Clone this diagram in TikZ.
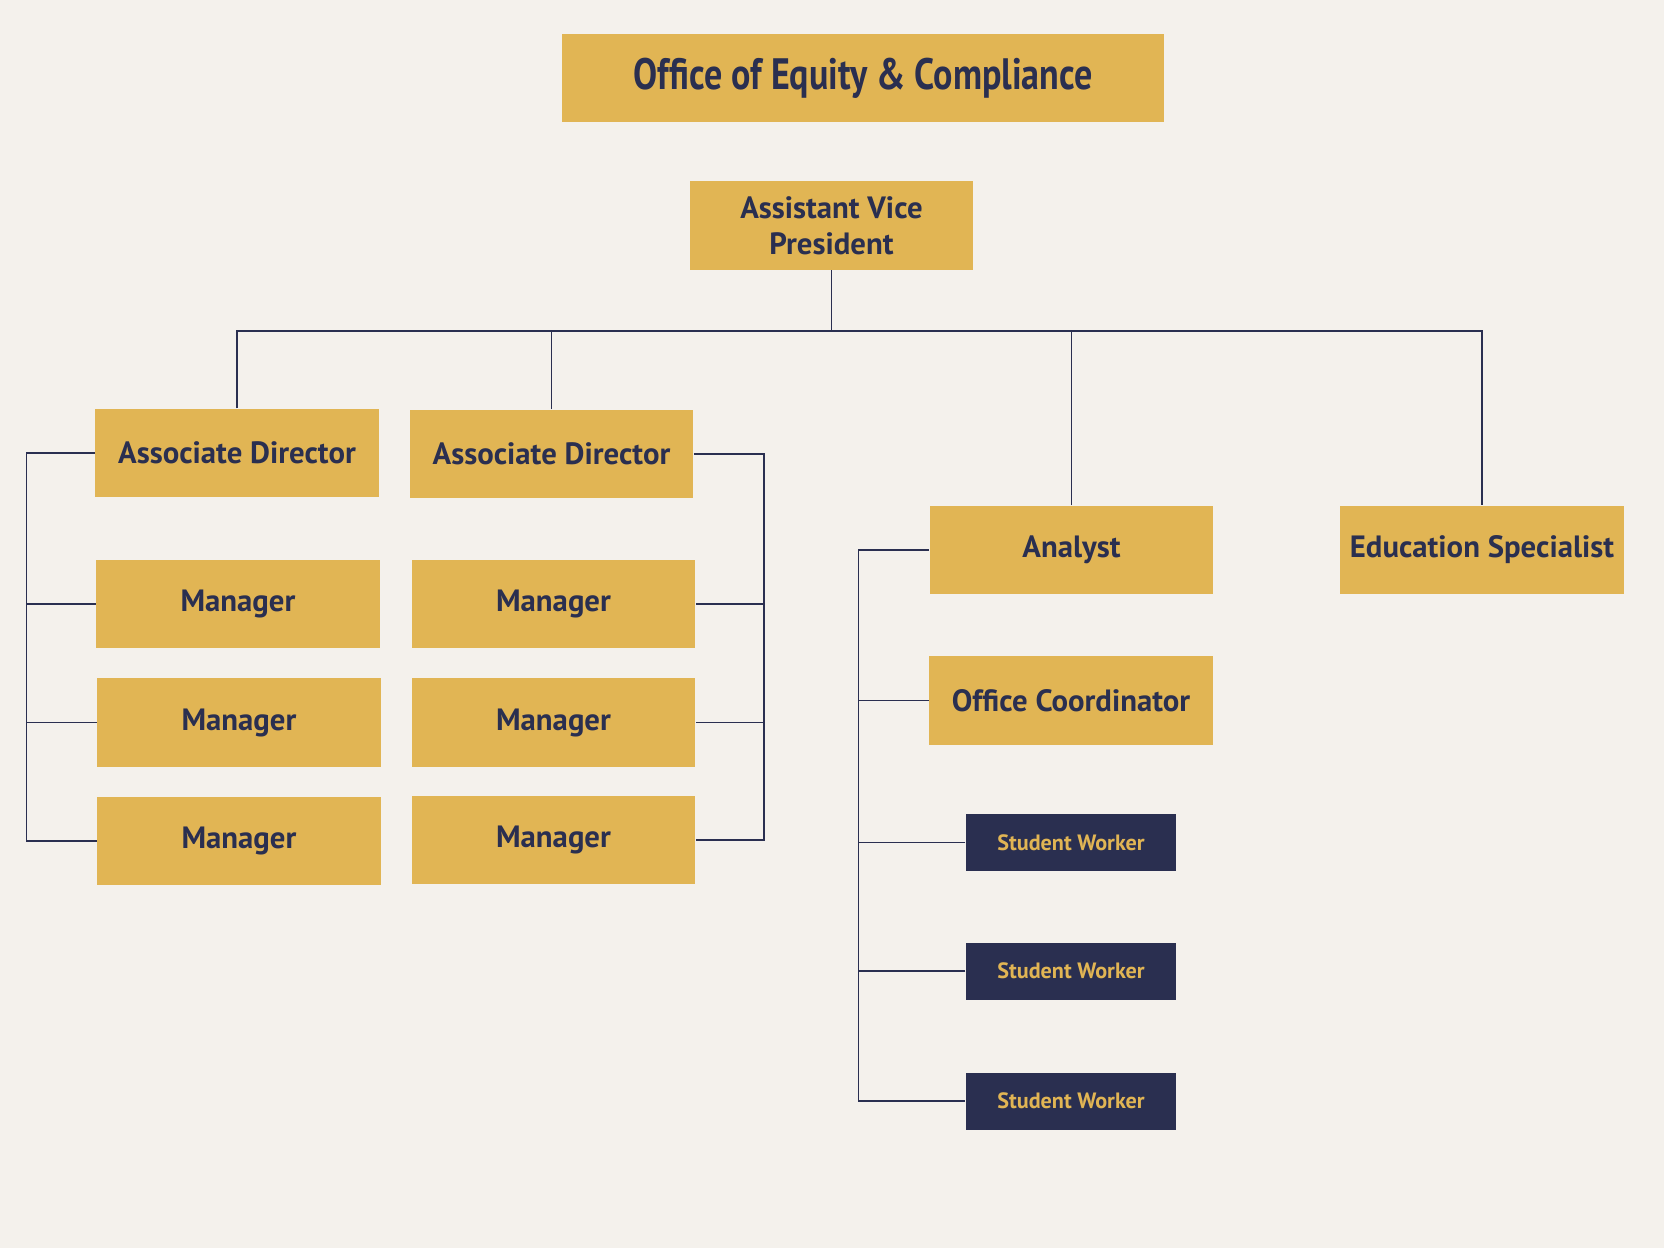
\documentclass[tikz,border=0pt]{standalone}
\usepackage{fontspec}
\setmainfont{PT Sans}
\newfontfamily\titlefont[FakeStretch=0.82]{PT Sans}
\usetikzlibrary{positioning}
\definecolor{paper}{HTML}{F4F1EC}
\definecolor{gold}{HTML}{E1B554}
\definecolor{navy}{HTML}{2A2F50}
\tikzstyle{titlebox} = [
    rectangle,
    fill=gold,
    text=navy,
    minimum width=6.02cm,
    minimum height=0.88cm,
    font=\titlefont\bfseries\fontsize{12.5}{15}\selectfont
]
\tikzstyle{rolebox} = [
    rectangle,
    fill=gold,
    text=navy,
    inner xsep=2pt,
    minimum width=2.83cm,
    minimum height=0.88cm,
    align=center,
    font=\bfseries\fontsize{8.75}{10.3}\selectfont
]
\tikzstyle{studentbox} = [
    rectangle,
    fill=navy,
    text=gold,
    minimum width=2.10cm,
    minimum height=0.57cm,
    font=\bfseries\fontsize{6.3}{8}\selectfont
]
\tikzstyle{link} = [draw=navy, line width=0.45pt]

\begin{document}
\begin{tikzpicture}[x=0.01cm, y=-0.01cm]

\fill [paper] (0,0) rectangle (1664,1248);
\useasboundingbox (0,0) rectangle (1664,1248);

% top of the chart
\node (title) [titlebox] at (863,78) {Office of Equity \& Compliance};
\node (avp) [rolebox] at (831.5,225.5) {Assistant Vice\\President};

% second row
\node (ad1) [rolebox] at (237,453) {Associate Director};
\node (ad2) [rolebox] at (551.5,454) {Associate Director};
\node (analyst) [rolebox] at (1071.5,550) {Analyst};
\node (edu) [rolebox] at (1482,550) {Education Specialist};

% managers
\node (m1) [rolebox] at (238,604) {Manager};
\node (m2) [rolebox] at (239,722.5) {Manager};
\node (m3) [rolebox] at (239,841) {Manager};
\node (m4) [rolebox] at (553.5,604) {Manager};
\node (m5) [rolebox] at (553.5,722.5) {Manager};
\node (m6) [rolebox] at (553.5,840) {Manager};

% office staff
\node (coord) [rolebox] at (1071,700.5) {Office Coordinator};
\node (sw1) [studentbox] at (1071,842.5) {Student Worker};
\node (sw2) [studentbox] at (1071,971) {Student Worker};
\node (sw3) [studentbox] at (1071,1101) {Student Worker};

\coordinate (bus) at (0,331);
\coordinate (lbar) at (26.5,0);
\coordinate (rbar) at (764,0);
\coordinate (sbar) at (858.5,0);

\draw [link] (avp.south) -- (avp.south |- bus);
\draw [link] (ad1.north) |- (edu.north |- bus) -- (edu.north);
\draw [link] (ad2.north) -- (ad2.north |- bus);
\draw [link] (analyst.north) -- (analyst.north |- bus);

\draw [link] (ad1.west) -| (lbar |- m3.west) -- (m3.west);
\draw [link] (m1.west) -- (m1.west -| lbar);
\draw [link] (m2.west) -- (m2.west -| lbar);

\draw [link] (ad2.east) -| (rbar |- m6.east) -- (m6.east);
\draw [link] (m4.east) -- (m4.east -| rbar);
\draw [link] (m5.east) -- (m5.east -| rbar);

\draw [link] (analyst.west) -| (sbar |- sw3.west) -- (sw3.west);
\draw [link] (coord.west) -- (coord.west -| sbar);
\draw [link] (sw1.west) -- (sw1.west -| sbar);
\draw [link] (sw2.west) -- (sw2.west -| sbar);

\end{tikzpicture}
\end{document}
